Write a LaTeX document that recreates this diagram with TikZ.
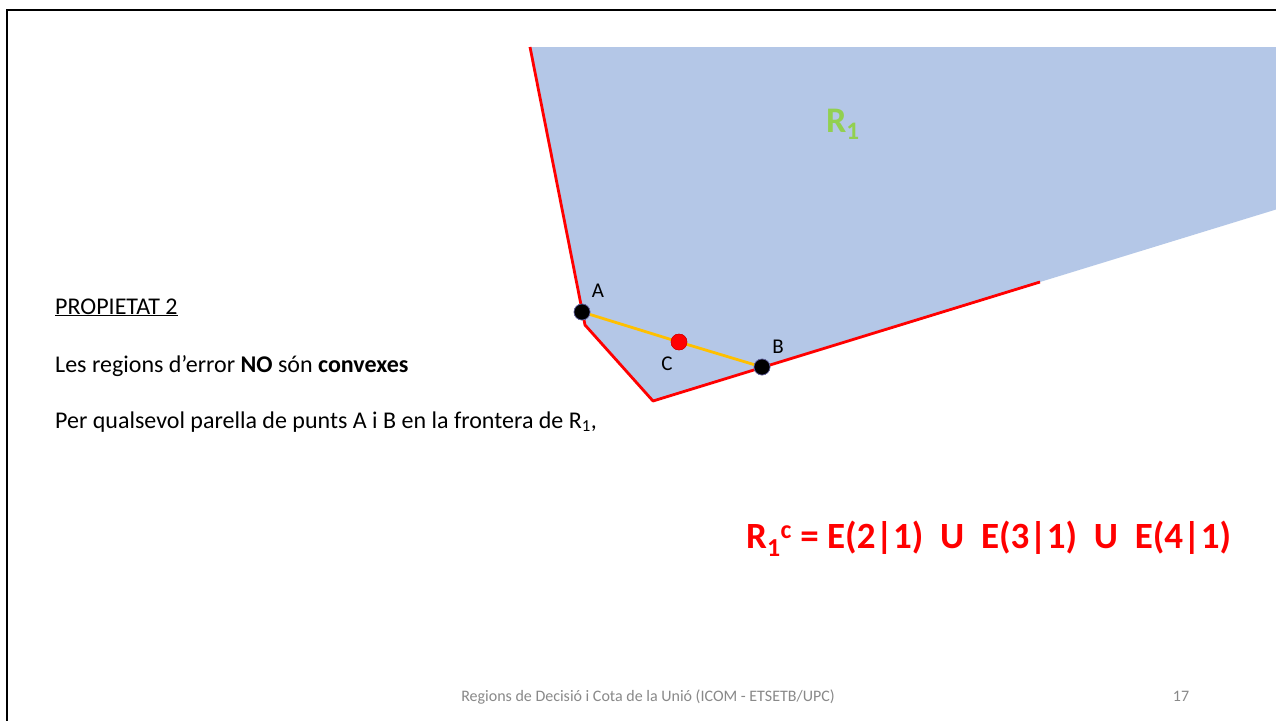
\documentclass[tikz,border=0pt]{standalone}
\usepackage{fontspec}
\setmainfont{Carlito}
\begin{document}
\begin{tikzpicture}[x=1pt,y=-1pt,
  txt/.style={inner sep=0pt,font=\fontsize{24}{28}\selectfont},
  ptlabel/.style={inner sep=0pt,font=\fontsize{21}{24}\selectfont},
  bdot/.style={circle,fill=black,draw=black!60!blue!60,line width=0.6pt,minimum size=16pt,inner sep=0pt},
  rdot/.style={circle,fill=red,draw=red!80!black,line width=0.4pt,minimum size=16pt,inner sep=0pt},
  redline/.style={draw=red,line width=2.8pt,line join=round},
]
\useasboundingbox (0,0) rectangle (1276,720);
\fill[white] (0,0) rectangle (1276,720);
% slide frame
\draw[line width=2.6pt] (7,725) -- (7,10) -- (1282,10);
% region R1
\coordinate (tl) at (530,47);
\coordinate (k1) at (585,325);
\coordinate (k2) at (653,401);
\coordinate (k3) at (1040,282);
\fill[fill={rgb,255:red,180;green,199;blue,231}] (tl) -- (1276,47) -- (1276,209.5) -- (k3) -- (k2) -- (k1) -- cycle;
\draw[redline] (tl) -- (k1) -- (k2) -- (k3);
% points
\node[bdot] (A) at (582,312) {};
\node[bdot] (B) at (762,367) {};
\node[rdot] (C) at (679,342) {};
\draw[draw={rgb,255:red,255;green,192;blue,0},line width=2.8pt] (A) -- (C) -- (B);
\node[bdot] at (582,312) {};
\node[bdot] at (762,367) {};
\node[rdot] at (679,342) {};
\node[ptlabel,anchor=base] (la) at (598,297) {A};
\node[ptlabel,anchor=base] (lb) at (778,353) {B};
\node[ptlabel,anchor=base] (lc) at (667,370) {C};
% R1 label
\node[inner sep=0pt,anchor=base west,text={rgb,255:red,146;green,208;blue,80},font=\bfseries\fontsize{36}{42}\selectfont] (r1) at (826,132) {R\textsubscript{1}};
% left text
\node[txt,anchor=base west] (p2) at (55,314) {\underline{PROPIETAT 2}};
\node[txt,anchor=base west] (l1) at (55,372) {Les regions d’error \textbf{NO} són \textbf{convexes}};
\node[txt,anchor=base west] (l2) at (55,428) {Per qualsevol parella de punts A i B en la frontera de R\textsubscript{1},};
% formula
\node[inner sep=0pt,anchor=base west,text=red,font=\bfseries\fontsize{37}{43}\selectfont] (f) at (746,548) {R\textsubscript{1}\textsuperscript{c} = E(2|1)~~U~~E(3|1)~~U~~E(4|1)};
% footer
\node[inner sep=0pt,anchor=base,text={rgb,255:red,137;green,137;blue,137},font=\fontsize{16}{19}\selectfont] (ft) at (648,701) {Regions de Decisió i Cota de la Unió (ICOM - ETSETB/UPC)};
\node[inner sep=0pt,anchor=base,text={rgb,255:red,137;green,137;blue,137},font=\fontsize{16}{19}\selectfont] (pg) at (1181,701) {17};
\end{tikzpicture}
\end{document}
